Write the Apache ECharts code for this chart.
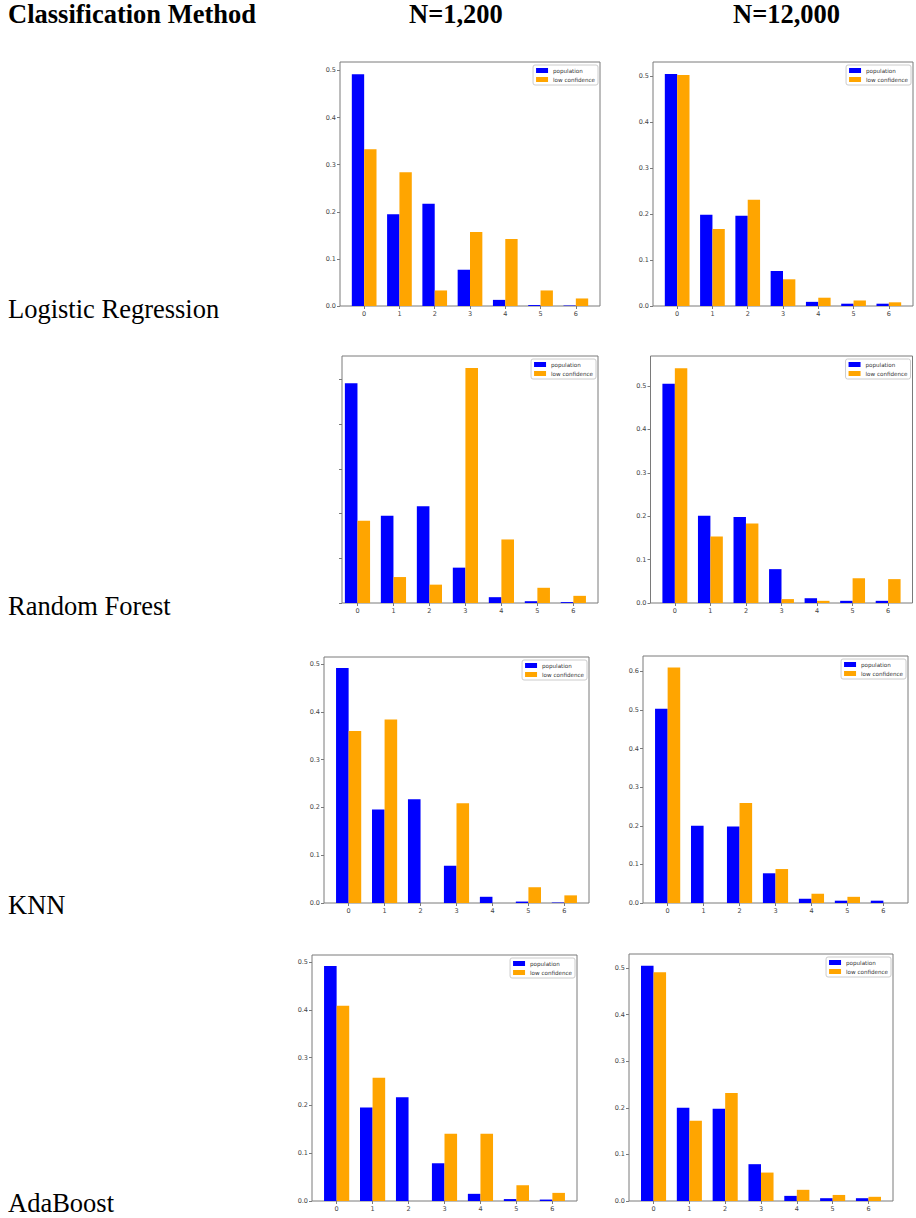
<!DOCTYPE html>
<html><head><meta charset="utf-8">
<script src="https://cdn.jsdelivr.net/npm/echarts@6/dist/echarts.min.js"></script>
<style>html,body{margin:0;padding:0;background:#fff}#c{width:916px;height:1218px}</style>
</head><body><div id="c"></div>
<script>
// ---------- data ----------
const categories = [0, 1, 2, 3, 4, 5, 6];
const xTickLabels = ['0', '1', '2', '3', '4', '5', '6'];
const yTicksTo05 = [0, 0.1, 0.2, 0.3, 0.4, 0.5];
const yTicksTo06 = [0, 0.1, 0.2, 0.3, 0.4, 0.5, 0.6];
const methods = ['Logistic Regression', 'Random Forest', 'KNN', 'AdaBoost'];
const sampleSizes = ['N=1,200', 'N=12,000'];
const headerLabel = 'Classification Method';
const seriesNames = ['population', 'low confidence'];

// Logistic Regression
const lrPop1200 = [0.492, 0.195, 0.217, 0.077, 0.013, 0.002, 0.001];
const lrLow1200 = [0.333, 0.284, 0.033, 0.157, 0.142, 0.033, 0.016];
const lrPop12000 = [0.504, 0.198, 0.196, 0.076, 0.009, 0.005, 0.005];
const lrLow12000 = [0.502, 0.167, 0.231, 0.058, 0.018, 0.012, 0.008];
// Random Forest
const rfPop1200 = [0.491, 0.195, 0.216, 0.079, 0.013, 0.004, 0.002];
const rfLow1200 = [0.184, 0.058, 0.041, 0.525, 0.142, 0.034, 0.016];
const rfPop12000 = [0.505, 0.201, 0.198, 0.078, 0.011, 0.005, 0.005];
const rfLow12000 = [0.541, 0.153, 0.183, 0.009, 0.005, 0.057, 0.055];
// KNN
const knnPop1200 = [0.492, 0.196, 0.217, 0.078, 0.013, 0.003, 0.001];
const knnLow1200 = [0.360, 0.384, 0, 0.209, 0, 0.033, 0.016];
const knnPop12000 = [0.503, 0.200, 0.198, 0.077, 0.011, 0.006, 0.006];
const knnLow12000 = [0.610, 0, 0.259, 0.088, 0.024, 0.016, 0];
// AdaBoost
const adaPop1200 = [0.492, 0.196, 0.217, 0.079, 0.015, 0.004, 0.003];
const adaLow1200 = [0.409, 0.258, 0, 0.141, 0.141, 0.033, 0.017];
const adaPop12000 = [0.505, 0.200, 0.198, 0.079, 0.011, 0.006, 0.006];
const adaLow12000 = [0.491, 0.172, 0.232, 0.061, 0.024, 0.013, 0.009];

// ---------- layout ----------
const W = 916;
const panels = [
  { pop: lrPop1200,  low: lrLow1200,  left: 340,   top: 62,  width: 260, height: 244, xMin: -0.685, yMax: 0.518, yTicks: yTicksTo05, yLabels: true },
  { pop: lrPop12000, low: lrLow12000, left: 653,   top: 62,  width: 260, height: 244, xMin: -0.685, yMax: 0.530, yTicks: yTicksTo05, yLabels: true },
  { pop: rfPop1200,  low: rfLow1200,  left: 342,   top: 356, width: 256, height: 247, xMin: -0.43,  yMax: 0.552, yTicks: yTicksTo05, yLabels: false },
  { pop: rfPop12000, low: rfLow12000, left: 650.5, top: 356, width: 262, height: 247, xMin: -0.685, yMax: 0.569, yTicks: yTicksTo05, yLabels: true },
  { pop: knnPop1200, low: knnLow1200, left: 324,   top: 657, width: 265, height: 246, xMin: -0.685, yMax: 0.515, yTicks: yTicksTo05, yLabels: true },
  { pop: knnPop12000,low: knnLow12000,left: 643,   top: 656, width: 265, height: 247, xMin: -0.685, yMax: 0.640, yTicks: yTicksTo06, yLabels: true },
  { pop: adaPop1200, low: adaLow1200, left: 312,   top: 955, width: 265, height: 246, xMin: -0.685, yMax: 0.515, yTicks: yTicksTo05, yLabels: true },
  { pop: adaPop12000,low: adaLow12000,left: 629,   top: 954, width: 264, height: 247, xMin: -0.685, yMax: 0.530, yTicks: yTicksTo05, yLabels: true }
];
const rowCenters = [309, 606, 905, 1203];
const headerCenter = 13.5;
const colHeaderX = [409, 733];

const tickFont = 'DejaVu Sans';
const labelColor = '#444';
const spineColor = '#7a7a7a';

const grid = [], xAxis = [], yAxis = [], series = [], legend = [];
panels.forEach((p, i) => {
  grid.push({ left: p.left, top: p.top, width: p.width, height: p.height, show: true,
    borderColor: spineColor, borderWidth: 1, backgroundColor: '#fff', containLabel: false });
  xAxis.push({ type: 'value', gridIndex: i, min: p.xMin, max: 6.685, position: 'bottom',
    splitLine: { show: false },
    axisLine: { show: false, onZero: false },
    axisTick: { show: true, length: 3, lineStyle: { color: spineColor, width: 1 }, customValues: categories },
    axisLabel: { show: true, customValues: categories, fontSize: 6.5, color: labelColor, fontFamily: tickFont, margin: 4,
      formatter: v => xTickLabels[Math.round(v)] } });
  yAxis.push({ type: 'value', gridIndex: i, min: 0, max: p.yMax, position: 'left',
    splitLine: { show: false },
    axisLine: { show: false, onZero: false },
    axisTick: { show: true, length: 3, lineStyle: { color: spineColor, width: 1 }, customValues: p.yTicks },
    axisLabel: { show: p.yLabels, customValues: p.yTicks, fontSize: 6.5, color: labelColor, fontFamily: tickFont, margin: 4,
      formatter: v => v.toFixed(1) } });
  series.push({ type: 'bar', name: seriesNames[0], xAxisIndex: i, yAxisIndex: i,
    data: categories.map((c, j) => [c, p.pop[j]]), barWidth: '35%', barGap: '0%',
    itemStyle: { color: '#0000ff' }, emphasis: { disabled: true }, animation: false });
  series.push({ type: 'bar', name: seriesNames[1], xAxisIndex: i, yAxisIndex: i,
    data: categories.map((c, j) => [c, p.low[j]]), barWidth: '35%', barGap: '0%',
    itemStyle: { color: '#ffa500' }, emphasis: { disabled: true }, animation: false });
  legend.push({ orient: 'vertical', right: W - (p.left + p.width) + 2, top: p.top + 3,
    data: seriesNames.map(n => ({ name: n, icon: 'rect' })),
    itemWidth: 12, itemHeight: 5, itemGap: 2, padding: [2, 3, 2, 3],
    textStyle: { fontSize: 5.6, color: '#333', fontFamily: tickFont, lineHeight: 7 },
    borderColor: '#cccccc', borderWidth: 1, borderRadius: 2, backgroundColor: '#fff', selectedMode: false });
});

const serif = '"Liberation Serif", "Times New Roman", serif';
const graphic = [];
graphic.push({ type: 'text', x: 8, y: headerCenter, style: { text: headerLabel, font: 'bold 26.5px ' + serif, fill: '#000', verticalAlign: 'middle' } });
sampleSizes.forEach((s, k) => {
  graphic.push({ type: 'text', x: colHeaderX[k], y: headerCenter, style: { text: s, font: 'bold 26.5px ' + serif, fill: '#000', verticalAlign: 'middle' } });
});
methods.forEach((m, k) => {
  graphic.push({ type: 'text', x: 8, y: rowCenters[k], style: { text: m, font: '26.5px ' + serif, fill: '#000', verticalAlign: 'middle' } });
});

const chart = echarts.init(document.getElementById('c'), null, { renderer: 'svg', width: 916, height: 1218 });
chart.setOption({ animation: false, backgroundColor: '#fff', grid, xAxis, yAxis, series, legend, graphic });
</script>
</body></html>
